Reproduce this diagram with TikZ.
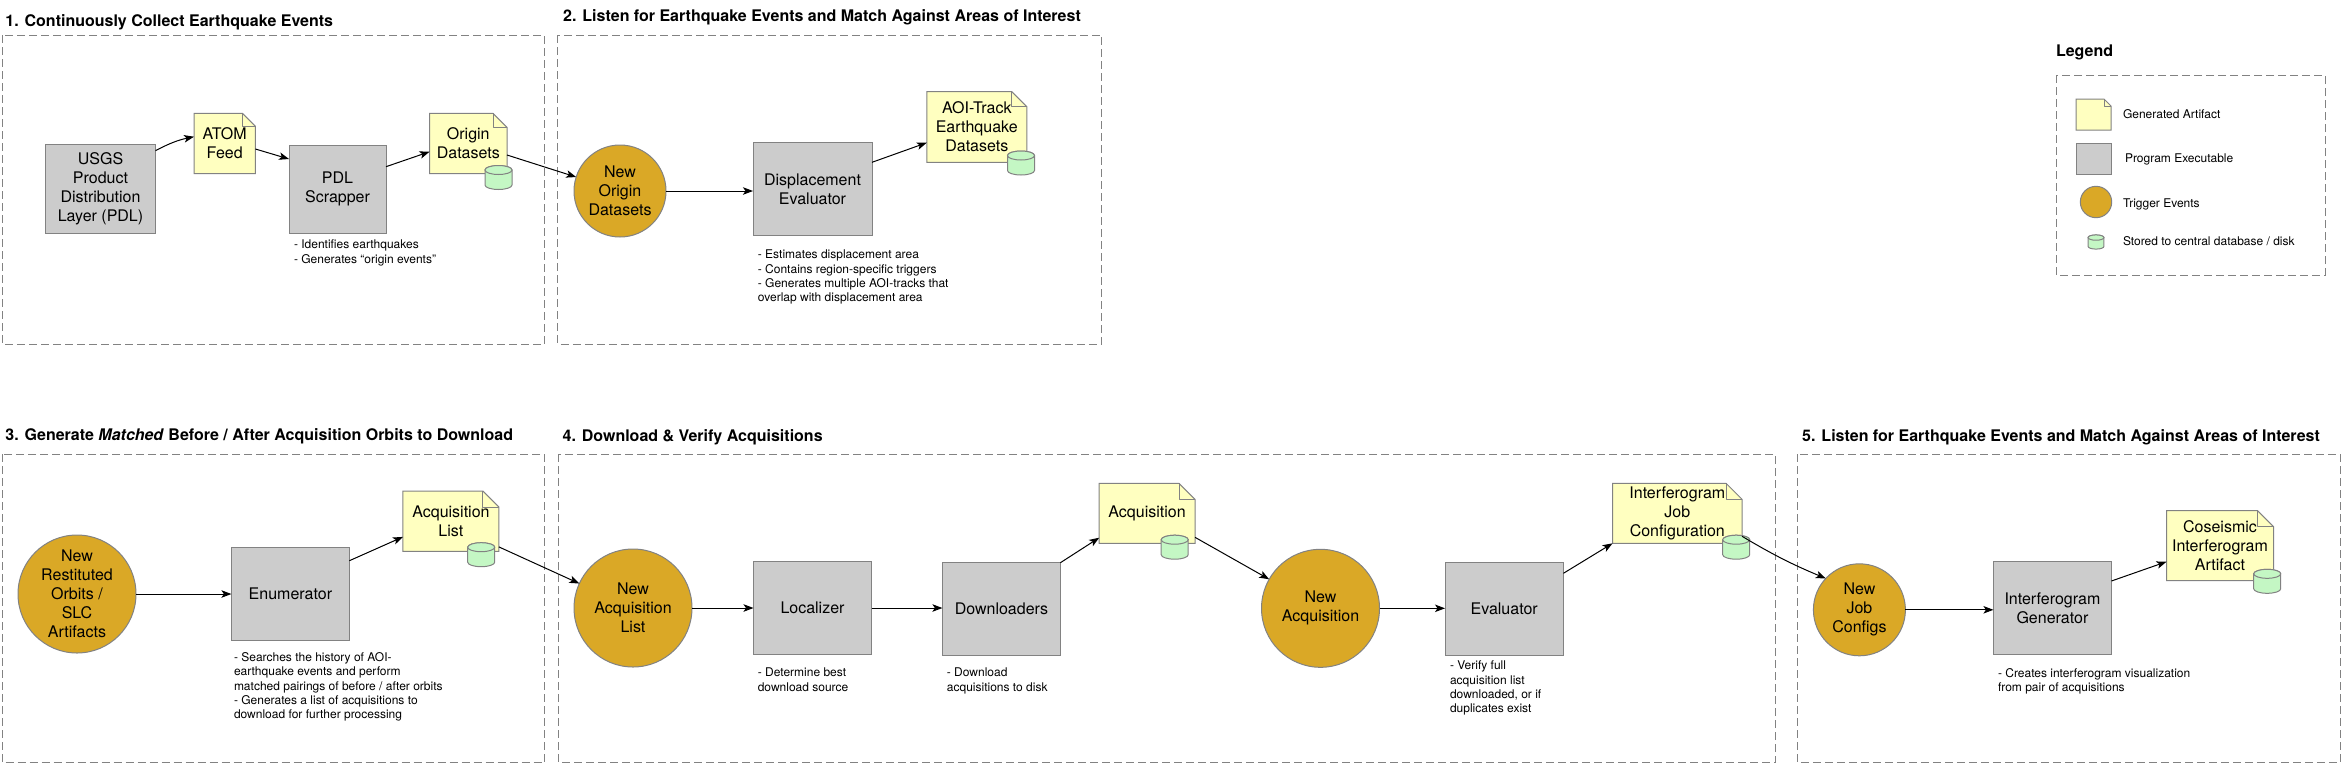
\documentclass[tikz,border=0pt]{standalone}
\usepackage{fontspec}
\setmainfont{TeX Gyre Heros}
\usetikzlibrary{arrows.meta,calc}
\pgfdeclarelayer{bg}
\pgfsetlayers{bg,main}
\definecolor{boxgray}{RGB}{204,204,204}
\definecolor{bordergray}{RGB}{130,130,130}
\definecolor{noteyellow}{RGB}{255,255,192}
\definecolor{gold}{RGB}{218,168,38}
\definecolor{cylgreen}{RGB}{196,247,196}
\definecolor{dashgray}{RGB}{130,130,130}
\newcommand\artbg[2]{%
  \begin{pgfonlayer}{bg}
    \path[notefill] (#1.south west) -- (#1.north west) -- ($(#1.north east)+(-#2,0)$) -- ($(#1.north east)+(0,#2)$) -- (#1.south east) -- cycle;
    \draw[draw=bordergray, line width=1pt, line join=round] ($(#1.north east)+(-#2,0)$) -- ($(#1.north east)+(-#2,#2)$) -- ($(#1.north east)+(0,#2)$);
  \end{pgfonlayer}}
\tikzset{
  notefill/.style={draw=bordergray, fill=noteyellow, line width=1pt},
  cylstyle/.style={draw=bordergray, fill=cylgreen, line width=1pt},
  dbcyl/.pic={
    \path[cylstyle] (-13.5,-7.5) -- (-13.5,7.5) arc[start angle=180,end angle=0,x radius=13.5,y radius=4.5] -- (13.5,-7.5) arc[start angle=0,end angle=-180,x radius=13.5,y radius=4.5] -- cycle;
    \path[cylstyle] (0,-7.5) ellipse[x radius=13.5,y radius=4.5];
  }
}
\begin{document}
\begin{tikzpicture}[x=1pt,y=-1pt,
  every node/.style={inner sep=0pt, outer sep=0pt},
  txt/.style={font=\fontsize{16}{19}\selectfont, align=center},
  prog/.style={txt, rectangle, draw=bordergray, fill=boxgray, line width=1pt},
  artifact/.style={txt, rectangle},
  trigger/.style={txt, circle, draw=bordergray, fill=gold, line width=1pt},
  conn/.style={line width=1pt, -{Stealth[length=10pt,width=7.5pt,inset=2.5pt]}},
  sectbox/.style={draw=dashgray, line width=1pt, dash pattern=on 8pt off 4pt},
  ttl/.style={font=\fontsize{16}{19}\selectfont\bfseries, anchor=base west},
  descr/.style={font=\fontsize{12}{14.4}\selectfont, align=left, anchor=north west},
  lgtext/.style={font=\fontsize{12}{14.4}\selectfont, anchor=base west},
]
\useasboundingbox (0,0) rectangle (2342,764);
\begin{pgfonlayer}{bg}
  \draw[sectbox] (2,35) rectangle (544.6,344);
  \draw[sectbox] (557.9,35) rectangle (1101.8,344);
  \draw[sectbox] (2056,75) rectangle (2325,275);
  \draw[sectbox] (2,454.3) rectangle (544.6,762.7);
  \draw[sectbox] (558.4,454.3) rectangle (1775.4,762.7);
  \draw[sectbox] (1797.2,454.3) rectangle (2340,762.7);
\end{pgfonlayer}

% titles
\node[ttl] (t1) at (5.4,26) {1. Continuously Collect Earthquake Events};
\node[ttl] (t2) at (563.2,21) {2. Listen for Earthquake Events and Match Against Areas of Interest};
\node[ttl] (tl) at (2056,56) {Legend};
\node[ttl] (t3) at (5.4,440.7) {3. Generate \textit{Matched} Before / After Acquisition Orbits to Download};
\node[ttl] (t4) at (562.6,441) {4. Download \& Verify Acquisitions};
\node[ttl] (t5) at (1802.2,441) {5. Listen for Earthquake Events and Match Against Areas of Interest};

% section 1
\node[prog, minimum width=110pt, minimum height=89pt] (usgs) at (100.5,188.8) {USGS\\Product\\Distribution\\Layer (PDL)};
\node[artifact, minimum width=61.4pt, minimum height=60.4pt] (atom) at (224.7,143.5) {ATOM\\Feed};
\artbg{atom}{13}
\node[prog, minimum width=97pt, minimum height=88pt] (pdl) at (337.5,189.3) {PDL\\Scrapper};
\node[descr] (d1) at (294,240) {- Identifies earthquakes\\- Generates “origin events”};
\node[artifact, minimum width=77.4pt, minimum height=60.4pt] (origds) at (468.3,143.5) {Origin\\Datasets};
\artbg{origds}{14}
\pic at (498.5,177.5) {dbcyl};

% section 2
\node[trigger, minimum size=92pt] (neworigin) at (620,191) {New\\Origin\\Datasets};
\node[prog, minimum width=119pt, minimum height=93pt] (displ) at (812.5,188.8) {Displacement\\Evaluator};
\node[descr] (d2) at (757.9,250) {- Estimates displacement area\\- Contains region-specific triggers\\- Generates multiple AOI-tracks that\\overlap with displacement area};
\node[artifact, minimum width=100pt, minimum height=70.6pt] (aoi) at (976.8,127) {AOI-Track\\Earthquake\\Datasets};
\artbg{aoi}{15}
\pic at (1021,163) {dbcyl};

% legend
\node[artifact, minimum width=35pt, minimum height=31pt] (lgart) at (2093.5,114.5) {};
\artbg{lgart}{7}
\node[lgtext] (lgartt) at (2123,118.3) {Generated Artifact};
\node[prog, minimum width=35pt, minimum height=31pt] (lgprog) at (2093.5,158.5) {};
\node[lgtext] (lgprogt) at (2125,162.3) {Program Executable};
\node[trigger, minimum size=31.4pt] (lgtrig) at (2096,202) {};
\node[lgtext] (lgtrigt) at (2123,207.3) {Trigger Events};
\pic[scale=0.59] at (2096,242) {dbcyl};
\node[lgtext] (lgcylt) at (2123,245.3) {Stored to central database / disk};

% section 3
\node[trigger, minimum size=118pt] (newrest) at (77,594) {New\\Restituted\\Orbits /\\SLC\\Artifacts};
\node[prog, minimum width=118pt, minimum height=93pt] (enum) at (290.4,593.7) {Enumerator};
\node[descr] (d3) at (234,652.3) {- Searches the history of AOI-\\earthquake events and perform\\matched pairings of before / after orbits\\- Generates a list of acquisitions to\\download for further processing};
\node[artifact, minimum width=96pt, minimum height=60.3pt] (acqlist) at (450.9,521.2) {Acquisition\\List};
\artbg{acqlist}{16}
\pic at (481.2,554.7) {dbcyl};

% section 4
\node[trigger, minimum size=118pt] (newacqlist) at (633,608) {New\\Acquisition\\List};
\node[prog, minimum width=118pt, minimum height=93pt] (loc) at (812.5,608) {Localizer};
\node[descr] (d4) at (757.8,668) {- Determine best\\download source};
\node[prog, minimum width=118pt, minimum height=93pt] (dl) at (1001.4,609.2) {Downloaders};
\node[descr] (d5) at (946.9,668) {- Download\\acquisitions to disk};
\node[artifact, minimum width=95.8pt, minimum height=60pt] (acq) at (1147.1,513.3) {Acquisition};
\artbg{acq}{16}
\pic at (1174.7,547.2) {dbcyl};
\node[trigger, minimum size=118pt] (newacq) at (1320.5,608.3) {New\\Acquisition};
\node[prog, minimum width=118.4pt, minimum height=93.4pt] (evalr) at (1504.2,609) {Evaluator};
\node[descr] (d6) at (1450,661) {- Verify full\\acquisition list\\downloaded, or if\\duplicates exist};
\node[artifact, minimum width=129.5pt, minimum height=60pt] (ijc) at (1677.3,513.3) {Interferogram\\Job\\Configuration};
\artbg{ijc}{16}
\pic at (1736.2,547.2) {dbcyl};

% section 5
\node[trigger, minimum size=92pt] (newjob) at (1859.4,609.8) {New\\Job\\Configs};
\node[prog, minimum width=118pt, minimum height=93pt] (ig) at (2052.4,608) {Interferogram\\Generator};
\node[descr] (d7) at (1998,668.3) {- Creates interferogram visualization\\from pair of acquisitions};
\node[artifact, minimum width=107pt, minimum height=70pt] (cos) at (2220,545.7) {Coseismic\\Interferogram\\Artifact};
\artbg{cos}{16}
\pic at (2267.2,581.3) {dbcyl};

% connectors
\draw[conn] ($(usgs.north east)+(0,6.4)$) to[bend left=8] ($(atom.west)+(0,-6.8)$);
\draw[conn] ($(atom.east)+(0,5.5)$) -- ($(pdl.north west)+(0,13.7)$);
\draw[conn] ($(pdl.east)+(0,-22.6)$) -- ($(origds.west)+(0,8.2)$);
\draw[conn] ($(origds.east)+(0,11.5)$) -- (neworigin);
\draw[conn] (neworigin.east) -- (neworigin.east -| displ.west);
\draw[conn] ($(displ.east)+(0,-26.5)$) -- ($(aoi.west)+(0,15.7)$);
\draw[conn] (newrest.east) -- (newrest.east -| enum.west);
\draw[conn] ($(enum.east)+(0,-33)$) -- ($(acqlist.west)+(0,15.7)$);
\draw[conn] ($(acqlist.east)+(0,25.7)$) -- (newacqlist);
\draw[conn] (newacqlist.east) -- (newacqlist.east -| loc.west);
\draw[conn] (loc.east) -- (loc.east -| dl.west);
\draw[conn] (dl.north east) -- ($(acq.south west)+(0,-5.6)$);
\draw[conn] ($(acq.south east)+(0,-6)$) -- (newacq);
\draw[conn] (newacq.east) -- (newacq.east -| evalr.west);
\draw[conn] ($(evalr.east)+(0,-35.7)$) -- (ijc.south west);
\draw[conn] ($(ijc.south east)+(0,-7)$) to[bend right=4] (newjob.137);
\draw[conn] (newjob.east) -- (newjob.east -| ig.west);
\draw[conn] ($(ig.east)+(0,-27)$) -- ($(cos.west)+(0,16)$);
\end{tikzpicture}
\end{document}
